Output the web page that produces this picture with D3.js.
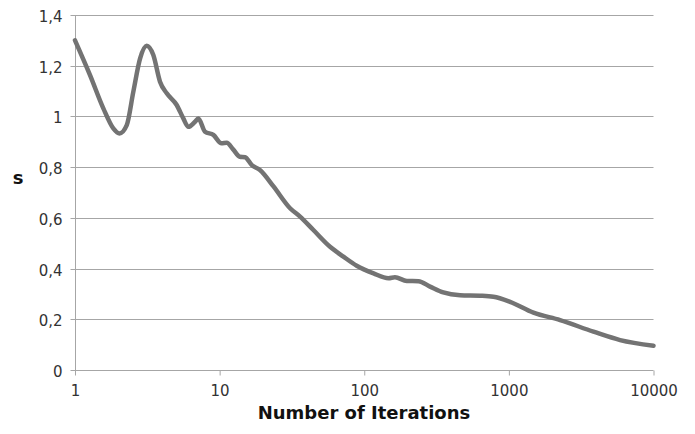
<!DOCTYPE html>
<html>
<head>
<meta charset="utf-8">
<script src="https://cdn.jsdelivr.net/npm/d3@7"></script>
<style>
  html, body { margin: 0; padding: 0; background: #fff; }
  svg { display: block; }
</style>
</head>
<body>
<svg id="chart" width="695" height="434"></svg>
<script>
const iterations = [1, 1.27, 1.57, 1.84, 2.03, 2.28, 2.53, 2.82, 3.13, 3.48, 3.87, 4.31, 5.05, 5.61, 6.08, 6.76, 7.12, 7.93, 9.05, 10.3, 11.2, 12.4, 13.8, 15.0, 16.7, 19.0, 23.5, 30.7, 36.0, 44.5, 58, 71.7, 88.7, 116, 147, 163, 197, 237, 285, 352, 460, 632, 782, 1019, 1479, 2260, 3844, 5875, 10000];
const sValues = [1.30, 1.163, 1.032, 0.953, 0.933, 0.966, 1.097, 1.229, 1.279, 1.242, 1.137, 1.091, 1.045, 0.992, 0.959, 0.979, 0.992, 0.940, 0.927, 0.894, 0.896, 0.870, 0.841, 0.839, 0.808, 0.789, 0.725, 0.638, 0.605, 0.552, 0.486, 0.447, 0.411, 0.381, 0.362, 0.366, 0.351, 0.350, 0.329, 0.306, 0.295, 0.293, 0.289, 0.269, 0.226, 0.197, 0.151, 0.118, 0.096];
const xTicks = [1, 10, 100, 1000, 10000];
const yTicks = [0, 0.2, 0.4, 0.6, 0.8, 1, 1.2, 1.4];
const xTitle = "Number of Iterations";
const yTitle = "s";

(function () {
const svg = d3.select("#chart");
const mLeft = 75, mRight = 653.5, mTop = 15, mBottom = 370;

const x = d3.scaleLog().domain([1, 10000]).range([mLeft, mRight]);
const y = d3.scaleLinear().domain([0, 1.4]).range([mBottom, mTop]);

const fontFam = "'DejaVu Sans', sans-serif";

// gridlines
svg.append("g").selectAll("line").data(yTicks.filter(d => d > 0)).join("line")
  .attr("x1", mLeft).attr("x2", mRight)
  .attr("y1", d => Math.round(y(d)) + 0.5).attr("y2", d => Math.round(y(d)) + 0.5)
  .attr("stroke", "#a6a6a6").attr("stroke-width", 1);

// y axis
const yAxis = d3.axisLeft(y).tickValues(yTicks).tickSize(5).tickPadding(8)
  .tickFormat(d => String(d).replace(".", ","));
const gy = svg.append("g").attr("transform", `translate(${mLeft + 0.5},0)`).call(yAxis);
gy.select(".domain").attr("stroke", "#a6a6a6").attr("d", `M0,${mBottom + 0.5}V${mTop}`);
gy.selectAll(".tick").attr("transform", d => `translate(0,${Math.round(y(d)) + 0.5})`);
gy.selectAll(".tick line").attr("stroke", "#a6a6a6");
gy.selectAll(".tick text").attr("font-family", fontFam).attr("font-size", 15).attr("fill", "#333").attr("dy", "0.4em");

// x axis
const xAxis = d3.axisBottom(x).tickValues(xTicks).tickSize(5).tickPadding(10)
  .tickFormat(d3.format("d"));
const gx = svg.append("g").attr("transform", `translate(0,${mBottom + 0.5})`).call(xAxis);
gx.select(".domain").attr("stroke", "#a6a6a6").attr("d", `M${mLeft},0H${mRight}`);
gx.selectAll(".tick line").attr("stroke", "#a6a6a6");
gx.selectAll(".tick text").attr("font-family", fontFam).attr("font-size", 15).attr("fill", "#333");

// line
const pts = iterations.map((d, i) => [d, sValues[i]]);
const line = d3.line().x(d => x(d[0])).y(d => y(d[1])).curve(d3.curveMonotoneX);
svg.append("path").datum(pts).attr("d", line)
  .attr("fill", "none").attr("stroke", "#737373").attr("stroke-width", 4.5)
  .attr("stroke-linejoin", "round").attr("stroke-linecap", "round");

// titles
svg.append("text").attr("x", 364).attr("y", 419).attr("text-anchor", "middle")
  .attr("font-family", fontFam).attr("font-weight", "bold").attr("font-size", 18)
  .attr("fill", "#111").text(xTitle);
svg.append("text").attr("x", 18).attr("y", 184).attr("text-anchor", "middle")
  .attr("font-family", fontFam).attr("font-weight", "bold").attr("font-size", 18)
  .attr("fill", "#111").text(yTitle);
})();
</script>
</body>
</html>
